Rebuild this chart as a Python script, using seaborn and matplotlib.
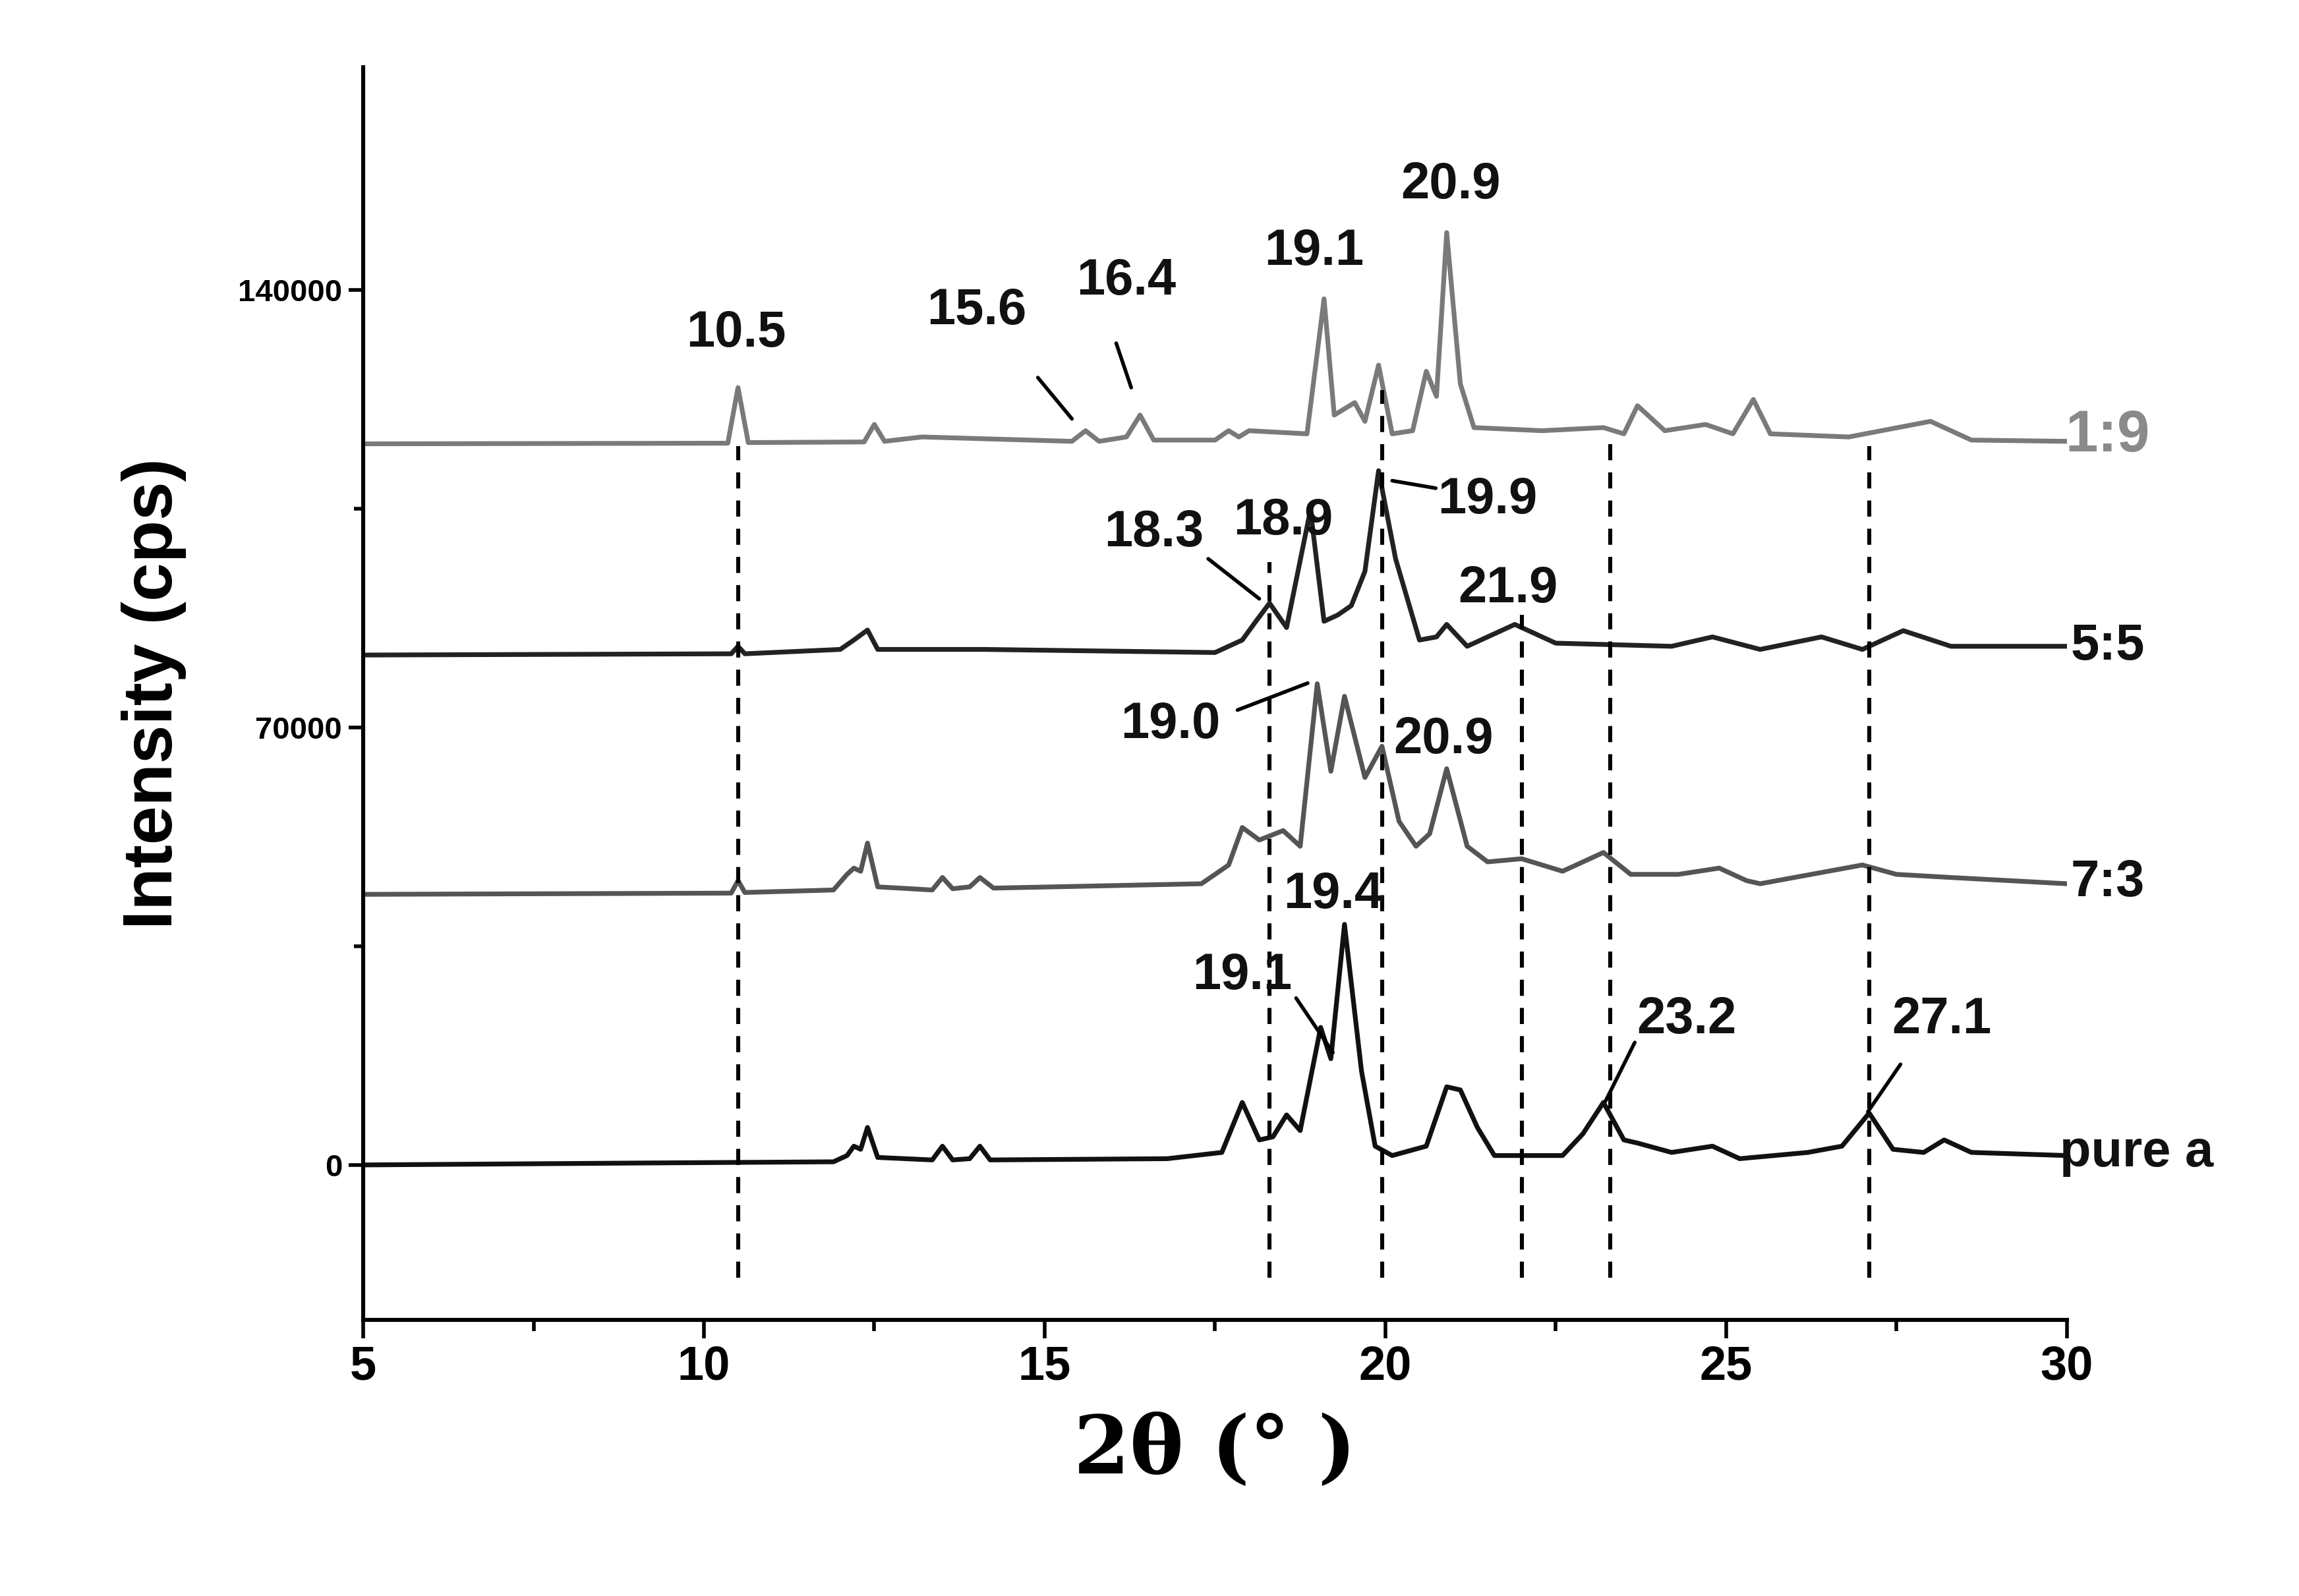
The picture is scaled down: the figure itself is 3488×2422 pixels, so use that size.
import matplotlib
matplotlib.use("Agg")
import matplotlib.pyplot as plt
import seaborn as sns
import pandas as pd

# ---- data (2theta, intensity) ----
pure_x = [5, 9, 11.9, 12.1, 12.2, 12.3, 12.4, 12.55, 13.35, 13.5, 13.65, 13.9, 14.05, 14.2, 16.8, 17.6, 17.9, 18.15, 18.35,
          18.55, 18.75, 19.05, 19.2, 19.4, 19.65, 19.85, 20.1, 20.6, 20.9, 21.1, 21.35, 21.6, 22.6, 22.9, 23.2, 23.5, 23.7,
          24.2, 24.8, 25.2, 26.2, 26.7, 27.1, 27.45, 27.9, 28.2, 28.6, 30]
pure_y = [0, 300, 500, 1500, 3000, 2500, 6000, 1200, 800, 3000, 800, 1000, 3000, 800, 1000, 2000, 10000, 4000, 4500,
          8000, 5500, 22000, 17000, 38500, 15000, 3000, 1500, 3000, 12500, 12000, 6000, 1500, 1500, 5000, 10000, 4000, 3500,
          2000, 3000, 1000, 2000, 3000, 8300, 2500, 2000, 4000, 2000, 1500]

s73_x = [5, 10.4, 10.5, 10.6, 11.9, 12.1, 12.2, 12.3, 12.4, 12.55, 13.35, 13.5, 13.65, 13.9, 14.05, 14.25, 17.3, 17.7, 17.9,
         18.15, 18.5, 18.75, 19.0, 19.2, 19.4, 19.7, 19.95, 20.2, 20.45, 20.65, 20.9, 21.2, 21.5, 22.0, 22.6, 23.2, 23.6,
         24.3, 24.9, 25.3, 25.5, 26.0, 27.0, 27.5, 28.3, 30]
s73_y = [43300, 43500, 45500, 43600, 44000, 46500, 47500, 47000, 51500, 44500, 44000, 46000, 44200, 44500, 46000, 44300, 45000, 48000, 54000,
         52000, 53500, 51000, 77000, 63000, 75000, 62000, 67000, 55000, 51000, 53000, 63400, 51000, 48500, 49000, 47000, 50000, 46500,
         46500, 47500, 45500, 45000, 46000, 48000, 46500, 46000, 45000]

s55_x = [5, 10.4, 10.5, 10.6, 12.0, 12.2, 12.4, 12.55, 13.5, 14.1, 17.5, 17.9, 18.1, 18.3, 18.55, 18.9, 19.1, 19.3, 19.5,
         19.7, 19.9, 20.15, 20.5, 20.75, 20.9, 21.2, 21.9, 22.5, 24.2, 24.8, 25.5, 26.4, 27.0, 27.6, 28.3, 30]
s55_y = [81600, 81800, 83000, 81800, 82500, 84000, 85600, 82500, 82500, 82500, 82000, 84000, 87000, 89900, 86000, 104800, 87000, 88000, 89500,
         95000, 111100, 97000, 84000, 84500, 86500, 83000, 86500, 83500, 83000, 84500, 82500, 84500, 82500, 85500, 83000, 83000]

s19_x = [5, 10.35, 10.5, 10.65, 12.35, 12.5, 12.65, 13.2, 15.4, 15.6, 15.8, 16.2, 16.4, 16.6, 17.5, 17.7, 17.85, 18.0, 18.85, 19.1,
         19.25, 19.4, 19.55, 19.7, 19.9, 20.1, 20.4, 20.6, 20.75, 20.9, 21.1, 21.3, 22.3, 23.2, 23.5, 23.7, 24.1, 24.7, 25.1,
         25.4, 25.65, 26.8, 28.0, 28.6, 30]
s19_y = [115400, 115500, 124400, 115600, 115700, 118500, 115800, 116500, 115800, 117500, 115800, 116500, 120000, 116000, 116000, 117500, 116500, 117500, 117000, 138600,
         120000, 121000, 122000, 119000, 128000, 117000, 117500, 127000, 123000, 149200, 125000, 118000, 117500, 118000, 117000, 121500, 117500, 118500, 117000,
         122500, 117000, 116500, 119000, 116000, 115800]

series_names = ["pure a", "7:3", "5:5", "1:9"]
series_colors = ["#111111", "#555555", "#222222", "#7a7a7a"]

dash_x = [10.5, 18.3, 19.95, 22.0, 23.3, 27.1]
dash_top = [115000, 96500, 124000, 88000, 116000, 115000]

# (text, text_x, text_y, leader start, leader end)
peak_labels = [
    ("10.5", 10.47, 133100, None, None),
    ("15.6", 14.0, 136700, (14.9, 126000), (15.4, 119400)),
    ("16.4", 16.2, 141400, (16.05, 131500), (16.27, 124400)),
    ("19.1", 18.95, 146200, None, None),
    ("20.9", 20.96, 156800, None, None),
    ("18.3", 16.6, 101200, (17.4, 97000), (18.15, 90600)),
    ("18.9", 18.5, 103100, None, None),
    ("19.9", 21.5, 106400, (20.74, 108300), (20.1, 109500)),
    ("21.9", 21.8, 92200, None, None),
    ("19.0", 16.85, 70500, (17.83, 72800), (18.86, 77100)),
    ("20.9", 20.85, 68100, None, None),
    ("19.4", 19.23, 43300, None, None),
    ("19.1", 17.9, 30300, (18.69, 26700), (19.23, 18000)),
    ("23.2", 24.42, 23200, (23.66, 19600), (23.23, 10200)),
    ("27.1", 28.16, 23200, (27.56, 16100), (27.08, 8500)),
]

frames = []
for name, xs, ys in zip(series_names, [pure_x, s73_x, s55_x, s19_x], [pure_y, s73_y, s55_y, s19_y]):
    frames.append(pd.DataFrame({"two_theta": xs, "intensity": ys, "sample": name}))
df = pd.concat(frames, ignore_index=True)

sns.set_theme(style="ticks")
plt.rcParams["font.family"] = ["Liberation Sans", "DejaVu Sans"]

fig = plt.figure(figsize=(17.44, 12.11), dpi=200)
ax = fig.add_axes([0.158, 0.173, 0.741, 0.785])

sns.lineplot(data=df, x="two_theta", y="intensity", hue="sample", palette=dict(zip(series_names, series_colors)),
             legend=False, linewidth=2.6, ax=ax, sort=False, estimator=None)

for x, top in zip(dash_x, dash_top):
    ax.plot([x, x], [-18000, top], ls="--", color="black", lw=2.2, dashes=(4, 3))

for txt, tx, ty, p0, p1 in peak_labels:
    ax.text(tx, ty, txt, ha="center", va="center", fontsize=28, fontweight="bold", color="#111111")
    if p0 is not None:
        ax.plot([p0[0], p1[0]], [p0[1], p1[1]], color="black", lw=2)

label_pos = {"1:9": (30.6, 116600), "5:5": (30.6, 83000), "7:3": (30.6, 45200), "pure a": (29.9, 1900)}
for name in series_names:
    lx, ly = label_pos[name]
    ha = "left" if name == "pure a" else "center"
    ax.text(lx, ly, name, ha=ha, va="center", fontsize=32 if name == "1:9" else 28,
            fontweight="bold", color="#8a8a8a" if name == "1:9" else "#111111", clip_on=False)

ax.set_xlim(5, 30)
ax.set_ylim(-24800, 175700)
ax.set_xticks([5, 10, 15, 20, 25, 30])
ax.set_xticks([7.5, 12.5, 17.5, 22.5, 27.5], minor=True)
ax.set_yticks([0, 70000, 140000])
ax.set_yticks([35000, 105000], minor=True)
ax.tick_params(axis="both", which="both", colors="black", width=2)
ax.tick_params(axis="x", which="major", labelsize=26, length=10)
ax.tick_params(axis="x", which="minor", length=6)
ax.tick_params(axis="y", which="major", labelsize=17, length=8)
ax.tick_params(axis="y", which="minor", length=5)
for lab in ax.get_xticklabels() + ax.get_yticklabels():
    lab.set_fontweight("bold")
sns.despine(ax=ax)
for sp in ["left", "bottom"]:
    ax.spines[sp].set_linewidth(2.2)
    ax.spines[sp].set_color("black")

ax.set_xlabel("2θ (° )", fontsize=44, fontweight="bold", family="DejaVu Serif", labelpad=12, color="black")
ax.set_ylabel("Intensity (cps)", fontsize=38, fontweight="bold", labelpad=28, color="black")

fig.savefig("out.png", dpi=200, facecolor="white")
